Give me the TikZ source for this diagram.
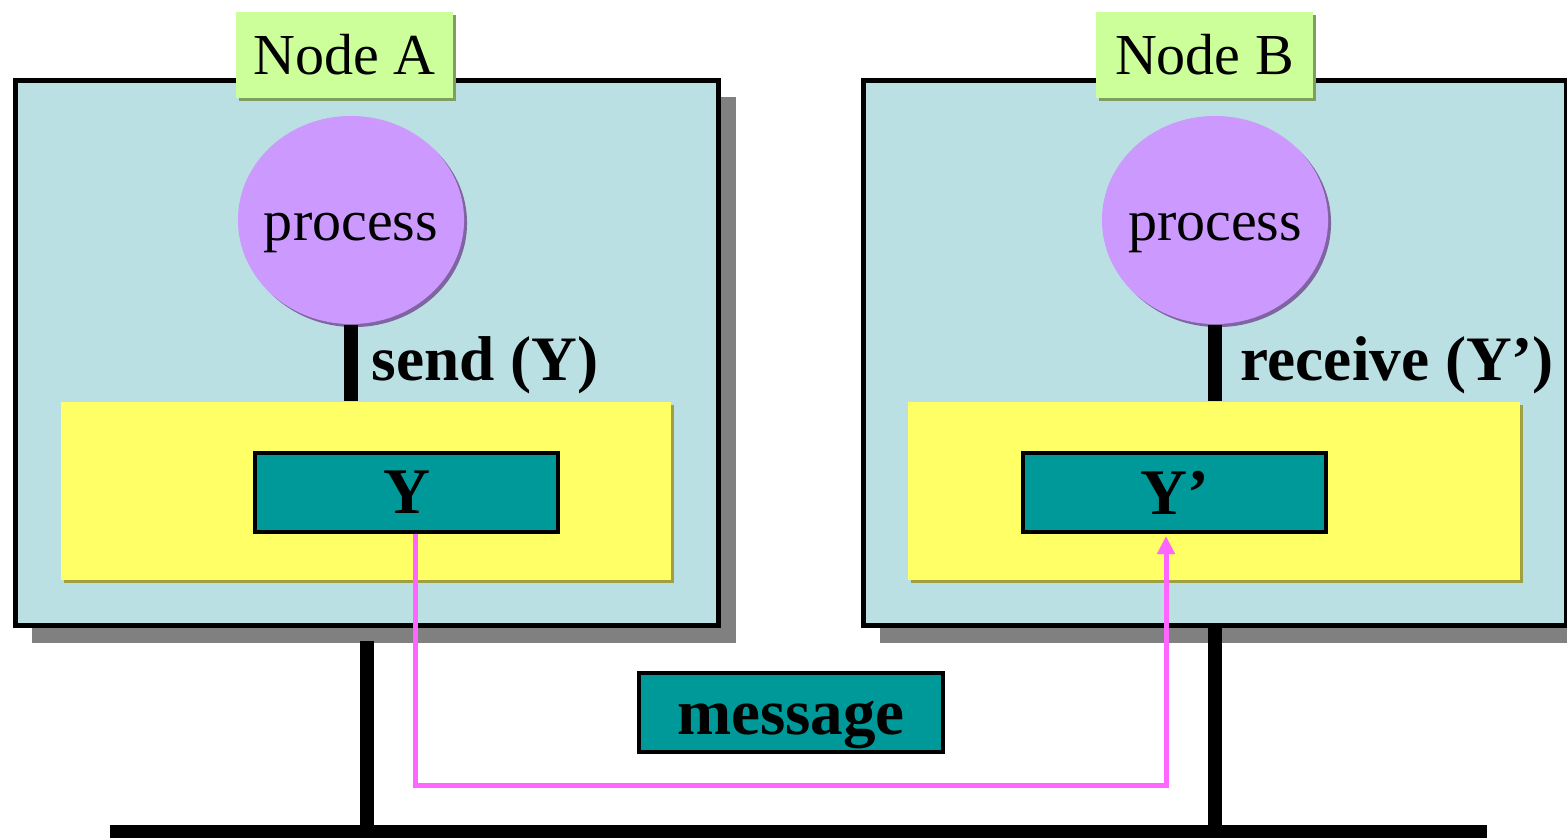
\documentclass[tikz,border=0pt]{standalone}
\usepackage{fontspec}
\setmainfont{Liberation Serif}
\usepackage{tikz}
\usetikzlibrary{arrows.meta,positioning,shadows,shapes.geometric}

\definecolor{hostfill}{HTML}{BBE0E3}
\definecolor{tagfill}{HTML}{CCFF99}
\definecolor{tagshade}{HTML}{7F9F5F}
\definecolor{procfill}{HTML}{CC99FF}
\definecolor{procshade}{HTML}{8064A2}
\definecolor{buffill}{HTML}{FFFF66}
\definecolor{bufshade}{HTML}{A0A040}
\definecolor{varfill}{HTML}{009999}
\definecolor{msgpink}{HTML}{FF66FF}
\definecolor{hostshade}{HTML}{808080}

\tikzset{
	host/.style={draw=black,line width=0.05cm,fill=hostfill,minimum width=7.03cm,minimum height=5.45cm,
		drop shadow={shadow xshift=0.17cm,shadow yshift=-0.17cm,fill=hostshade,opacity=1}},
	tag/.style={fill=tagfill,minimum width=2.17cm,minimum height=0.86cm,inner sep=0pt,font=\fontsize{16.5}{19}\selectfont,
		drop shadow={shadow xshift=0.03cm,shadow yshift=-0.03cm,fill=tagshade,opacity=1}},
	proc/.style={ellipse,fill=procfill,minimum width=2.26cm,minimum height=2.08cm,inner sep=0pt,
		drop shadow={shadow xshift=0.03cm,shadow yshift=-0.03cm,fill=procshade,opacity=1}},
	proctext/.style={inner sep=0pt,text height=11.4pt,text depth=0pt,font=\fontsize{16.5}{19}\selectfont},
	buf/.style={fill=buffill,minimum height=1.78cm,inner sep=0pt,
		drop shadow={shadow xshift=0.03cm,shadow yshift=-0.03cm,fill=bufshade,opacity=1}},
	var/.style={draw=black,line width=0.04cm,fill=varfill,minimum width=3.03cm,minimum height=0.79cm,inner sep=0pt,
		font=\fontsize{18.5}{22}\selectfont\bfseries},
	call/.style={anchor=west,inner sep=0pt,font=\fontsize{18}{22}\selectfont\bfseries},
	wire/.style={line width=0.14cm},
	msgline/.style={draw=msgpink,line width=0.05cm}
}

\begin{document}
\begin{tikzpicture}[x=0.01cm,y=-0.01cm]
\useasboundingbox (0,0) rectangle (1567,838);

% the two hosts
\node[host] (hostA) at (367,353) {};
\node[host] (hostB) at (1215,353) {};

\node[tag] (tagA) at (344.5,55) {Node A};
\node[tag] (tagB) at (1204.5,55) {Node B};

\node[proc] (procA) at (351,220) {};
\node[proc] (procB) at (1215,220) {};
\node[proctext] (procTextA) at (procA) {process};
\node[proctext] (procTextB) at (procB) {process};

\node[buf,minimum width=6.10cm] (bufA) at (366,491) {};
\node[buf,minimum width=6.12cm] (bufB) at (1214,491) {};

\node[var] (varY) at (406.5,492.5) {Y};
\node[var] (varYp) at (1174.5,492.5) {Y’};

% send / receive calls
\draw[wire] (procA.south) -- (procA.south |- bufA.north);
\draw[wire] (procB.south) -- (procB.south |- bufB.north);
\node[call] (sendA) at (371,365) {send (Y)};
\node[call] (recvB) at (1240,365) {receive (Y’)};

% network
\coordinate (busL) at (110,831.5);
\coordinate (busR) at (1487,831.5);
\coordinate (tapA) at (367,641);
\draw[line width=0.13cm] (busL) -- (busR);
\draw[wire] (tapA) -- (tapA |- busL);
\draw[wire] (hostB.south) -- (hostB.south |- busL);

\node[var,minimum width=3.04cm,text height=12.5pt,text depth=0pt] (msg) at (791,712.5) {message};

% message path
\draw[msgline,-{Triangle[length=0.18cm,width=0.17cm]}] ([xshift=0.085cm]varY.south) -- ++(0,251)
	-| ([xshift=-0.085cm,yshift=-0.02cm]varYp.south);

\end{tikzpicture}
\end{document}
